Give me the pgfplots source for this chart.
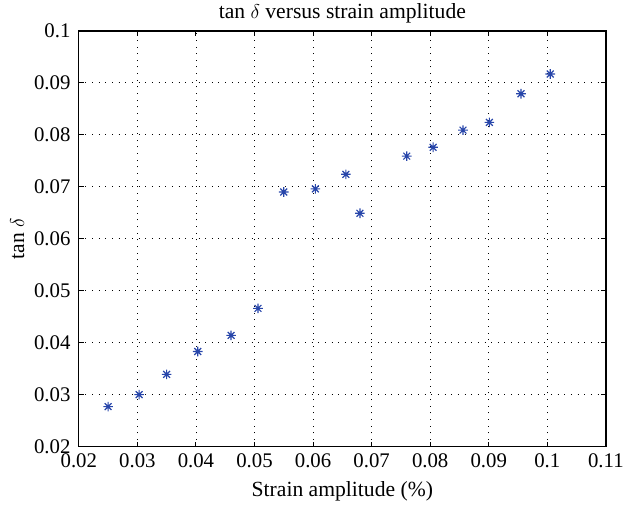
\documentclass[border=0pt]{standalone}
\usepackage{fontspec}
\setmainfont{Liberation Serif}
\usepackage{pgfplots}
\pgfplotsset{compat=1.18}
\definecolor{mblue}{RGB}{40,70,170}
\pgfdeclareplotmark{mstar}{%
  \pgfpathmoveto{\pgfqpoint{-\pgfplotmarksize}{0pt}}\pgfpathlineto{\pgfqpoint{\pgfplotmarksize}{0pt}}%
  \pgfpathmoveto{\pgfqpoint{0pt}{-\pgfplotmarksize}}\pgfpathlineto{\pgfqpoint{0pt}{\pgfplotmarksize}}%
  \pgfpathmoveto{\pgfqpoint{-0.707\pgfplotmarksize}{-0.707\pgfplotmarksize}}\pgfpathlineto{\pgfqpoint{0.707\pgfplotmarksize}{0.707\pgfplotmarksize}}%
  \pgfpathmoveto{\pgfqpoint{-0.707\pgfplotmarksize}{0.707\pgfplotmarksize}}\pgfpathlineto{\pgfqpoint{0.707\pgfplotmarksize}{-0.707\pgfplotmarksize}}%
  \pgfusepathqstroke}
\begin{document}
\begin{tikzpicture}
\begin{axis}[
  name=ax,
  scale only axis,
  width=317pt, height=250pt,
  xmin=0.02, xmax=0.11, ymin=0.02, ymax=0.1,
  xtick={0.02,0.03,...,0.11},
  ytick={0.02,0.03,...,0.1},
  xticklabels={0.02,0.03,0.04,0.05,0.06,0.07,0.08,0.09,0.1,0.11},
  yticklabels={0.02,0.03,0.04,0.05,0.06,0.07,0.08,0.09,0.1},
  /pgf/number format/assume math mode=true,
  tick align=inside,
  major tick length=3pt,
  xtick pos=both, ytick pos=both,
  grid=major,
  major grid style={black, line width=0.5pt, dash pattern=on 0.6pt off 3.4pt},
  axis line style={black, line width=0.8pt},
  tick style={black, line width=0.6pt},
  font=\fontsize{13}{15}\selectfont,
  tick label style={font=\fontsize{12.5}{15}\selectfont},
  xticklabel style={yshift=-1pt},
  yticklabel style={xshift=-1.5pt},
  xlabel={Strain amplitude (\%)},
  ylabel={tan $\delta$},
  title={tan $\delta$ versus strain amplitude},
  title style={yshift=-5pt},
  xlabel style={yshift=-1pt},
  ylabel style={yshift=-1pt},
]
\addplot[only marks, mark=mstar, mark size=2.9pt, mark options={mblue, line width=0.7pt}] coordinates {
(0.0250,0.0277)
(0.0303,0.0300)
(0.0350,0.0339)
(0.0403,0.0383)
(0.0460,0.0414)
(0.0506,0.0466)
(0.0550,0.0690)
(0.0604,0.0696)
(0.0656,0.0724)
(0.0680,0.0649)
(0.0760,0.0759)
(0.0805,0.0776)
(0.0856,0.0809)
(0.0901,0.0824)
(0.0955,0.0879)
(0.1005,0.0917)
};
\end{axis}
\pgfresetboundingbox
\path ([shift={(-47.4pt,-38pt)}]ax.south west) rectangle ([shift={(11.5pt,18.6pt)}]ax.north east);
\end{tikzpicture}
\end{document}
